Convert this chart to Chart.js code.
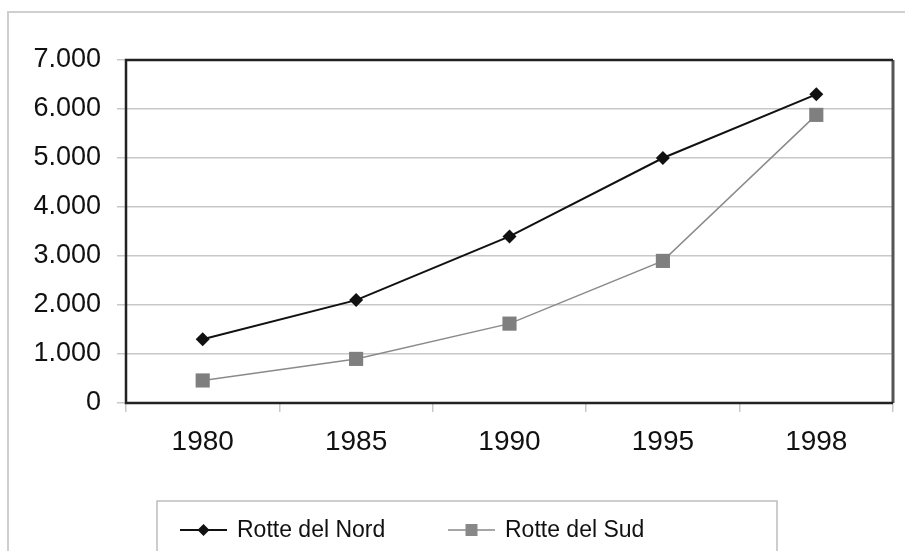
<!DOCTYPE html>
<html>
<head>
<meta charset="utf-8">
<script src="https://cdn.jsdelivr.net/npm/chart.js@4/dist/chart.umd.min.js"></script>
<style>
  html, body { margin: 0; padding: 0; background: #fff; }
  #wrap { width: 905px; height: 551px; position: relative; }
</style>
</head>
<body>
<div id="wrap"><canvas id="myChartLine"></canvas></div>
<script>
  // DATI
  const anni = ["1980", "1985", "1990", "1995", "1998"];
  const rotteNord = [1300, 2100, 3400, 5000, 6300];
  const rotteSud = [460, 900, 1620, 2900, 5880];
  const etichette = ["Rotte del Nord", "Rotte del Sud"];

  const FONT = "'Liberation Sans', Arial, Helvetica, sans-serif";

  function migliaia(v) {
    return String(v).replace(/\B(?=(\d{3})+(?!\d))/g, ".");
  }

  // bordo esterno, cornice del grafico e legenda
  const cornice = {
    id: "cornice",
    afterDraw(chart) {
      const ctx = chart.ctx;
      const a = chart.chartArea;
      ctx.save();
      // bordo esterno
      ctx.strokeStyle = "#cfcfcf";
      ctx.lineWidth = 2;
      ctx.beginPath();
      ctx.moveTo(8, 560);
      ctx.lineTo(8, 12);
      ctx.lineTo(910, 12);
      ctx.stroke();
      // cornice area dati
      ctx.strokeStyle = "#555";
      ctx.lineWidth = 3;
      ctx.beginPath();
      ctx.moveTo(a.right, a.top);
      ctx.lineTo(a.right, a.bottom);
      ctx.stroke();
      ctx.strokeStyle = "#222";
      ctx.lineWidth = 2.5;
      ctx.beginPath();
      ctx.moveTo(a.right, a.top);
      ctx.lineTo(a.left, a.top);
      ctx.lineTo(a.left, a.bottom);
      ctx.lineTo(a.right, a.bottom);
      ctx.stroke();

      // legenda
      ctx.strokeStyle = "#bdbdbd";
      ctx.lineWidth = 1.5;
      ctx.beginPath();
      ctx.moveTo(157, 560);
      ctx.lineTo(157, 501);
      ctx.lineTo(777, 501);
      ctx.lineTo(777, 560);
      ctx.stroke();

      const y = 530;
      const voci = [
        { x: 180, testo: etichette[0], colore: "#111", forma: "rombo" },
        { x: 448, testo: etichette[1], colore: "#888", forma: "quadrato" }
      ];
      ctx.font = "23px " + FONT;
      ctx.textBaseline = "middle";
      ctx.textAlign = "left";
      voci.forEach(v => {
        ctx.strokeStyle = v.colore;
        ctx.lineWidth = v.forma === "rombo" ? 2 : 1.5;
        ctx.beginPath();
        ctx.moveTo(v.x, y);
        ctx.lineTo(v.x + 47, y);
        ctx.stroke();
        ctx.fillStyle = v.colore;
        const cx = v.x + 23.5;
        ctx.beginPath();
        if (v.forma === "rombo") {
          ctx.moveTo(cx, y - 6);
          ctx.lineTo(cx + 6, y);
          ctx.lineTo(cx, y + 6);
          ctx.lineTo(cx - 6, y);
          ctx.closePath();
        } else {
          ctx.rect(cx - 6, y - 6, 12, 12);
        }
        ctx.fill();
        ctx.fillStyle = "#111";
        ctx.fillText(v.testo, v.x + 57, y + 1);
      });
      ctx.restore();
    }
  };

  const config_line = {
    type: "line",
    data: {
      labels: anni,
      datasets: [{
        label: etichette[0],
        data: rotteNord,
        borderColor: "#111",
        backgroundColor: "#111",
        borderWidth: 2,
        pointStyle: "rectRot",
        pointRadius: 7,
        pointHoverRadius: 7,
        pointBorderWidth: 0
      }, {
        label: etichette[1],
        data: rotteSud,
        borderColor: "#8a8a8a",
        backgroundColor: "#7f7f7f",
        borderWidth: 1.5,
        pointStyle: "rect",
        pointRadius: 10,
        pointHoverRadius: 10,
        pointBorderWidth: 0
      }]
    },
    options: {
      responsive: false,
      animation: false,
      layout: { padding: { left: 0, top: 60, right: 12, bottom: 96 } },
      plugins: {
        legend: { display: false },
        tooltip: { enabled: false }
      },
      scales: {
        x: {
          offset: true,
          grid: {
            offset: true,
            drawOnChartArea: false,
            tickLength: 9,
            color: "#c8c8c8",
            lineWidth: 1.5
          },
          border: { display: false },
          ticks: {
            color: "#111",
            padding: 13,
            font: { family: FONT, size: 28 }
          },
          afterFit(scale) {
            scale.height = 52;
            scale.paddingLeft = 0;
            scale.paddingRight = 0;
          }
        },
        y: {
          min: 0,
          max: 7000,
          grid: {
            color: "#c8c8c8",
            lineWidth: 1.5,
            tickLength: 9
          },
          border: { display: false },
          ticks: {
            stepSize: 1000,
            color: "#111",
            padding: 16,
            font: { family: FONT, size: 27 },
            callback: v => migliaia(v)
          },
          afterFit(scale) {
            scale.width = 126;
            scale.paddingTop = 0;
            scale.paddingBottom = 0;
          }
        }
      }
    },
    plugins: [cornice]
  };

  const canvas = document.getElementById("myChartLine");
  canvas.width = 905;
  canvas.height = 551;
  var myChartLine = new Chart(canvas, config_line);
</script>
</body>
</html>
